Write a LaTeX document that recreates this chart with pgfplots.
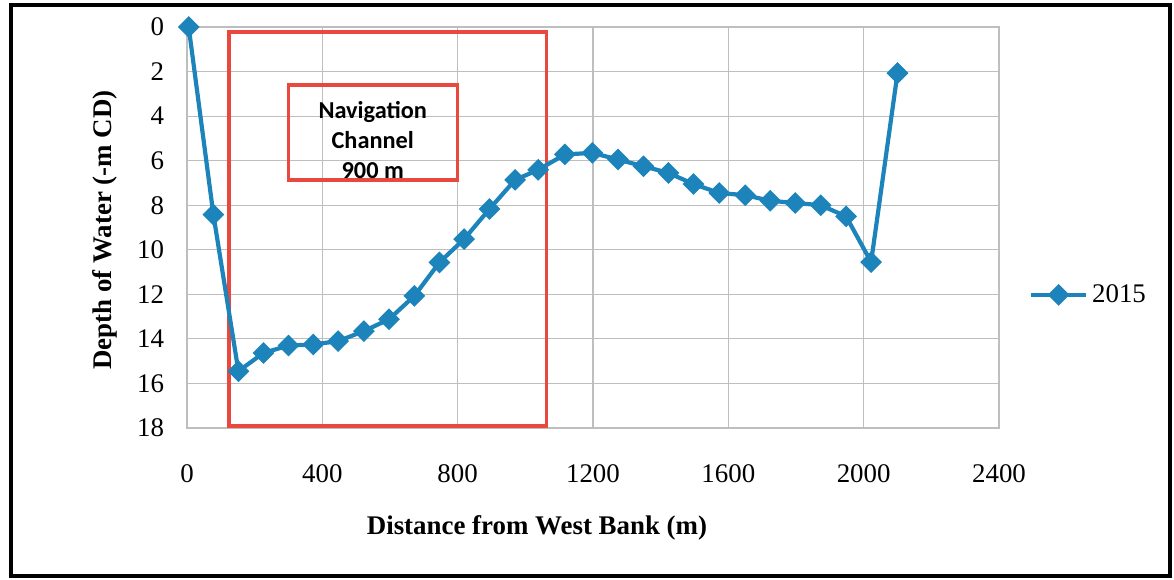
\documentclass[border=0pt]{standalone}
\usepackage{pgfplots}
\pgfplotsset{compat=1.18}
\usepackage{fontspec}
\setmainfont{Liberation Serif}
\newfontfamily\carlito{Carlito}
\definecolor{lineblue}{RGB}{28,132,187}
\definecolor{boxred}{RGB}{232,72,62}
\definecolor{gridgrey}{RGB}{190,190,190}
\begin{document}
\begin{tikzpicture}
\useasboundingbox (-93.5bp,-76bp) rectangle (493.5bp,214bp);
\draw[line width=1.6bp] (-88bp,-74bp) rectangle (491.5bp,211.5bp);
\begin{axis}[
  at={(0,0)}, anchor=south west,
  scale only axis, width=406bp, height=200.5bp,
  xmin=0, xmax=2400, ymin=0, ymax=18, y dir=reverse,
  xtick={0,400,...,2400}, ytick={0,2,...,18},
  grid=major, major grid style={gridgrey, line width=0.6bp},
  axis line style={gridgrey, line width=0.6bp},
  major tick length=0,
  tick label style={font=\fontsize{13.5}{15}\selectfont},
  /pgf/number format/assume math mode=true,
  /pgf/number format/set thousands separator={},
  xticklabel style={yshift=-15bp},
  yticklabel style={xshift=-8bp},
  xlabel={\textbf{Distance from West Bank (m)}},
  ylabel={\textbf{Depth of Water (-m CD)}},
  label style={font=\fontsize{13.5}{15}\selectfont},
  xlabel style={at={(axis description cs:0.431,-0.249)}, anchor=center},
  ylabel style={at={(axis description cs:-0.101,0.494)}, anchor=center},
  clip=false,
  legend style={at={(1.029,0.332)}, anchor=west, draw=none, fill=none,
    font=\fontsize{13.5}{15}\selectfont},
  legend image code/.code={\draw[mark repeat=2, mark phase=2] plot coordinates {(0bp,0bp) (13.75bp,0bp) (27.5bp,0bp)};},
]
\draw[boxred, line width=1.8bp] (axis cs:125,0.22) rectangle (axis cs:1063,17.9);
\draw[boxred, line width=1.6bp] (axis cs:299,2.6) rectangle (axis cs:799,6.87);
\node[align=center, font=\carlito\bfseries\fontsize{12.2}{15}\selectfont] at (axis cs:549,5.07) {Navigation\\Channel\\900 m};
\addplot[lineblue, line width=2.1bp, mark=square*, mark size=2.8bp,
  mark options={rotate=45, solid, fill=lineblue}] coordinates {
  (5,0) (78,8.42) (152,15.45) (226,14.63) (300,14.3) (373,14.25) (447,14.1)
  (523,13.65) (597,13.12) (672,12.07) (746,10.57) (819,9.52) (894,8.17)
  (970,6.86) (1038,6.41) (1117,5.72) (1198,5.65) (1274,5.95) (1349,6.25)
  (1423,6.55) (1497,7.05) (1573,7.45) (1650,7.55) (1724,7.8) (1798,7.9)
  (1873,8.0) (1948,8.5) (2022,10.55) (2100,2.07)
};
\addlegendentry{2015}
\end{axis}
\end{tikzpicture}
\end{document}
